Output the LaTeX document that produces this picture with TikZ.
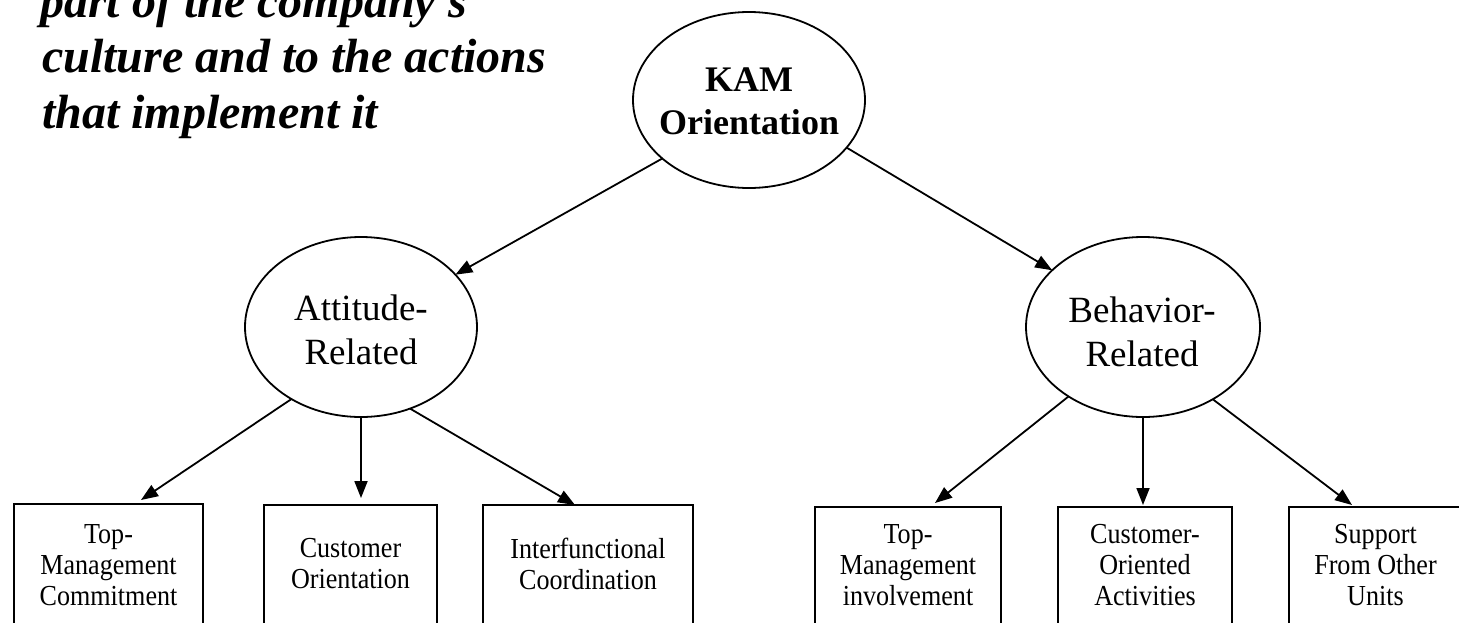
\documentclass[tikz,border=0pt]{standalone}
\usepackage{fontspec}
\setmainfont{Liberation Serif}
\newfontfamily\boxfont{Liberation Serif}[FakeStretch=0.9]
\usetikzlibrary{arrows.meta,shapes.geometric}
\begin{document}
\begin{tikzpicture}[x=1pt,y=-1pt,
  oval/.style={draw, ellipse, line width=1.8pt, inner sep=0pt, outer sep=0pt},
  box/.style={draw, rectangle, line width=2.2pt, inner sep=0pt, outer sep=0pt, anchor=north west, minimum height=140pt},
  boxtext/.style={font=\boxfont\fontsize{29}{31}\selectfont, align=center, inner sep=0pt, anchor=north},
  ovaltext/.style={font=\fontsize{37}{44}\selectfont, align=center, inner sep=0pt, anchor=north},
  arr/.style={-{Triangle[length=17pt,width=13pt]}, line width=1.8pt},
  captext/.style={font=\bfseries\itshape\fontsize{48}{55}\selectfont, anchor=base west, inner sep=0pt}
]
\clip (0,0) rectangle (1459,622);
\useasboundingbox (0,0) rectangle (1459,622);
\fill[white] (0,0) rectangle (1459,622);

% caption
\node[captext] (c1) at (40,17) {part of the company’s};
\node[captext] (c2) at (42,72) {culture and to the actions};
\node[captext] (c3) at (42,128) {that implement it};

% ellipses
\node[oval, minimum width=232pt, minimum height=176pt] (kam) at (749,100) {};
\node[oval, minimum width=232pt, minimum height=180pt] (att) at (361,327) {};
\node[oval, minimum width=234pt, minimum height=180pt] (beh) at (1143,327) {};
\node[ovaltext, font=\bfseries\fontsize{36}{43}\selectfont] (kamt) at (749,68) {KAM\\Orientation};
\node[ovaltext] (attt) at (361,295) {Attitude-\\Related};
\node[ovaltext] (beht) at (1142,297) {Behavior-\\Related};

% boxes
\node[box, minimum width=189pt] (b1) at (14,504) {};
\node[box, minimum width=173pt] (b2) at (264,505) {};
\node[box, minimum width=210pt] (b3) at (483,505) {};
\node[box, minimum width=186pt] (b4) at (815,507) {};
\node[box, minimum width=174pt] (b5) at (1058,507) {};
\node[box, minimum width=175pt] (b6) at (1289,507) {};

\node[boxtext] (t1) at (108.5,524) {Top-\\Management\\Commitment};
\node[boxtext] (t2) at (350.5,538) {Customer\\Orientation};
\node[boxtext] (t3) at (588,538) {Interfunctional\\Coordination};
\node[boxtext] (t4) at (908,524) {Top-\\Management\\involvement};
\node[boxtext] (t5) at (1145,524) {Customer-\\Oriented\\Activities};
\node[boxtext] (t6) at (1375.5,524) {Support\\From Other\\Units};

% arrows
\draw[arr] (kam.214) -- (att.29);
\draw[arr] (kam.334) -- (beh.148);
\draw[arr] (att.226) -- ([xshift=127pt,yshift=4pt]b1.north west);
\draw[arr] (att.270) -- ([xshift=97pt,yshift=7pt]b2.north west);
\draw[arr] (att.301) -- ([xshift=92pt]b3.north west);
\draw[arr] (beh.223) -- ([xshift=120pt,yshift=4pt]b4.north west);
\draw[arr] (beh.270) -- ([xshift=85pt,yshift=2pt]b5.north west);
\draw[arr] (beh.314) -- ([xshift=63pt,yshift=2pt]b6.north west);
\end{tikzpicture}
\end{document}
